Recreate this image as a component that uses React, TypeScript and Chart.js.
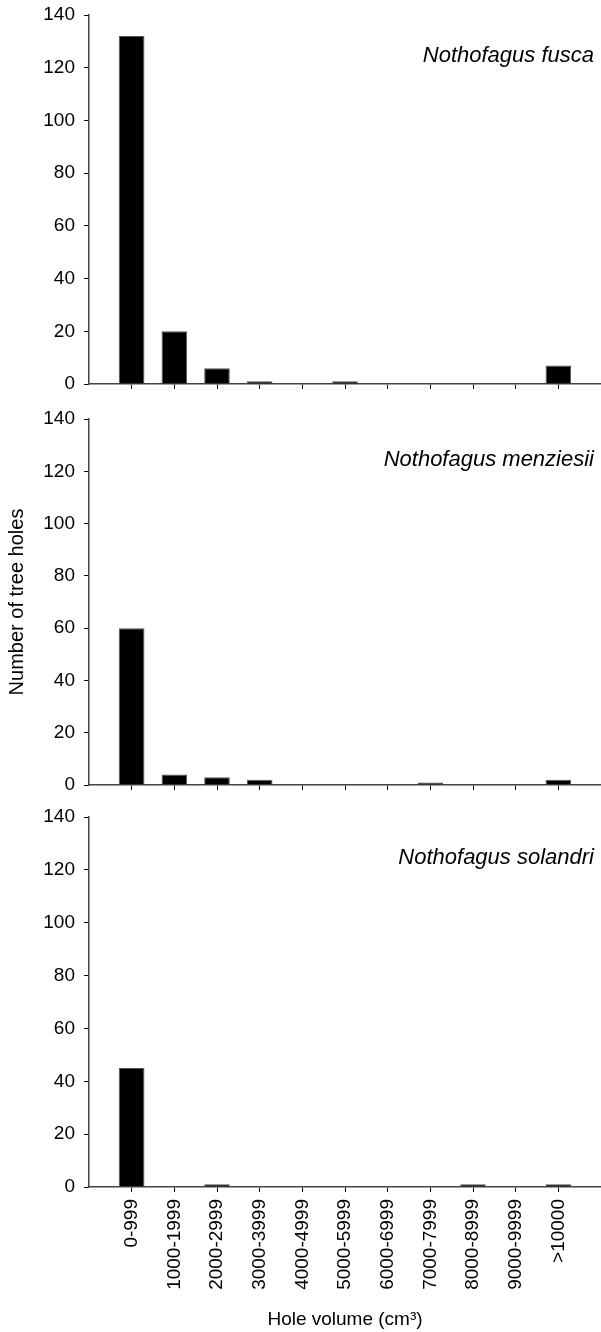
import React, { useEffect, useRef } from 'react';
import { Chart, registerables } from 'chart.js';

Chart.register(...registerables);

const categories = ['0-999', '1000-1999', '2000-2999', '3000-3999', '4000-4999', '5000-5999', '6000-6999', '7000-7999', '8000-8999', '9000-9999', '>10000'];
const speciesNames = ['Nothofagus fusca', 'Nothofagus menziesii', 'Nothofagus solandri'];
const fuscaCounts = [132, 20, 6, 1, 0, 1, 0, 0, 0, 0, 7];
const menziesiiCounts = [60, 4, 3, 2, 0, 0, 0, 1, 0, 0, 2];
const solandriCounts = [45, 0, 1, 0, 0, 0, 0, 0, 1, 0, 1];
const yTickValues = [0, 20, 40, 60, 80, 100, 120, 140];
const yAxisTitle = 'Number of tree holes';
const xAxisTitle = 'Hole volume (cm³)';

const FONT = '"Liberation Sans", Arial, Helvetica, sans-serif';
const AXIS_COLOR = '#444444';

type PanelProps = {
  values: number[];
  name: string;
  top: number;
  height: number;
  padTop: number;
  xAxisHeight: number;
  showXLabels: boolean;
  showYTitle: boolean;
};

function Panel(props: PanelProps) {
  const ref = useRef<HTMLCanvasElement | null>(null);
  useEffect(() => {
    const canvas = ref.current;
    if (!canvas) return;
    const namePlugin = {
      id: 'speciesName',
      afterDraw(chart: any) {
        const ctx = chart.ctx;
        ctx.save();
        ctx.font = `italic 22px ${FONT}`;
        ctx.fillStyle = '#000';
        ctx.textAlign = 'right';
        ctx.textBaseline = 'alphabetic';
        ctx.fillText(props.name, 594, chart.chartArea.top + 47);
        ctx.restore();
      },
    };
    const chart = new Chart(canvas, {
      type: 'bar',
      data: {
        datasets: [
          {
            data: props.values.map((v, i) => ({ x: i + 1, y: v })),
            backgroundColor: '#000000',
            borderColor: '#555555',
            borderWidth: 1,
            barPercentage: 0.6,
            categoryPercentage: 1,
          },
        ],
      },
      options: {
        responsive: false,
        animation: false,
        devicePixelRatio: 1,
        layout: { padding: { top: props.padTop, left: 0, right: 0, bottom: 0 } },
        plugins: { legend: { display: false }, tooltip: { enabled: false }, title: { display: false } },
        scales: {
          x: {
            type: 'linear',
            min: 0,
            max: 12,
            offset: false,
            afterBuildTicks: (s: any) => {
              s.ticks = categories.map((_, i) => ({ value: i + 1 }));
            },
            afterFit: (s: any) => {
              s.height = props.xAxisHeight;
              s.paddingLeft = 0;
              s.paddingRight = 0;
            },
            grid: {
              display: true,
              offset: false,
              drawOnChartArea: false,
              drawTicks: true,
              tickLength: 5,
              tickColor: '#000',
              tickWidth: 1,
            },
            border: { display: true, color: AXIS_COLOR, width: 1.5 },
            ticks: {
              display: props.showXLabels,
              autoSkip: false,
              minRotation: 90,
              maxRotation: 90,
              padding: 7,
              color: '#000',
              font: { family: FONT, size: 19 },
              callback: (v: any) => categories[Number(v) - 1] ?? '',
            },
            title: {
              display: props.showXLabels,
              text: xAxisTitle,
              color: '#000',
              font: { family: FONT, size: 19 },
              padding: { top: 0, bottom: 1 },
            },
          },
          y: {
            type: 'linear',
            min: 0,
            max: 140,
            afterBuildTicks: (s: any) => {
              s.ticks = yTickValues.map((v) => ({ value: v }));
            },
            afterFit: (s: any) => {
              s.width = 89;
              s.paddingTop = 0;
              s.paddingBottom = 0;
            },
            grid: {
              display: true,
              drawOnChartArea: false,
              drawTicks: true,
              tickLength: 5,
              tickColor: '#000',
              tickWidth: 1,
            },
            border: { display: true, color: AXIS_COLOR, width: 1.5 },
            ticks: {
              padding: 9,
              color: '#000',
              font: { family: FONT, size: 19 },
            },
            title: {
              display: props.showYTitle,
              text: yAxisTitle,
              color: '#000',
              font: { family: FONT, size: 20 },
              padding: { top: 5, bottom: 0 },
            },
          },
        },
      },
      plugins: [namePlugin],
    } as any);
    return () => chart.destroy();
  }, []);
  return (
    <div style={{ position: 'absolute', left: 0, top: props.top, width: 601, height: props.height }}>
      <canvas ref={ref} width={601} height={props.height} style={{ display: 'block', width: 601, height: props.height }} />
    </div>
  );
}

export default function App() {
  return (
    <div style={{ position: 'absolute', left: 0, top: 0, width: 601, height: 1332, background: '#fff' }}>
      <Panel values={fuscaCounts} name={speciesNames[0]} top={0} height={400} padTop={15} xAxisHeight={16} showXLabels={false} showYTitle={false} />
      <Panel values={menziesiiCounts} name={speciesNames[1]} top={400} height={400} padTop={19} xAxisHeight={15} showXLabels={false} showYTitle={true} />
      <Panel values={solandriCounts} name={speciesNames[2]} top={800} height={532} padTop={17} xAxisHeight={145} showXLabels={true} showYTitle={false} />
    </div>
  );
}
